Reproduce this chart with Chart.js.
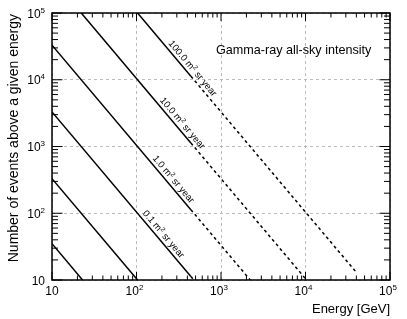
<!DOCTYPE html>
<html>
<head>
<meta charset="utf-8">
<script src="https://cdn.jsdelivr.net/npm/chart.js@4.4.1/dist/chart.umd.min.js"></script>
<style>
  html, body { margin: 0; padding: 0; background: #fff; }
  #wrap { width: 407px; height: 319px; }
</style>
</head>
<body>
<div id="wrap"><canvas id="c" width="407" height="319"></canvas></div>
<script>
// lines, lowest exposure first: [energy GeV, events above]
const exposureLabels = ["", "", "0.1", "1.0", "10.0", "100.0"];
const solidStart = [[10, 35], [10, 330], [10, 3300], [10, 33000], [22.2, 100000], [103, 100000]];
const solidEnd = [[23, 10], [103, 10], [440, 11.3], [440, 113], [440, 1130], [440, 11300]];
const dashedEnd = [null, null, [477, 10], [2220, 10], [10300, 10], [40000, 13]];
// energy at which each label sits on its line
const labelEnergy = [0, 0, 183, 240, 307, 404];
const decades = [10, 100, 1000, 10000, 100000];

const FONT = '"Liberation Sans", Arial, Helvetica, sans-serif';

const datasets = [];
solidStart.forEach((p, i) => {
  datasets.push({
    data: [{ x: p[0], y: p[1] }, { x: solidEnd[i][0], y: solidEnd[i][1] }],
    borderDash: []
  });
  if (dashedEnd[i]) {
    datasets.push({
      data: [{ x: solidEnd[i][0], y: solidEnd[i][1] }, { x: dashedEnd[i][0], y: dashedEnd[i][1] }],
      borderDash: [3, 3]
    });
  }
});
datasets.forEach(d => {
  d.borderColor = "#000";
  d.borderWidth = 1.5;
  d.pointRadius = 0;
  d.fill = false;
});

// text "base" + superscript "sup" starting at (x, y)
function supText(ctx, base, sup, rest, x, y, size, supSize, rise) {
  ctx.font = size + "px " + FONT;
  ctx.fillText(base, x, y);
  x += ctx.measureText(base).width;
  ctx.font = supSize + "px " + FONT;
  ctx.fillText(sup, x, y - rise);
  x += ctx.measureText(sup).width;
  ctx.font = size + "px " + FONT;
  if (rest) ctx.fillText(rest, x, y);
}
function supWidth(ctx, base, sup, rest, size, supSize) {
  ctx.font = size + "px " + FONT;
  let w = ctx.measureText(base).width + (rest ? ctx.measureText(rest).width : 0);
  ctx.font = supSize + "px " + FONT;
  return w + ctx.measureText(sup).width;
}

const rootFrame = {
  id: "rootFrame",
  afterDraw(chart) {
    const ctx = chart.ctx;
    const xs = chart.scales.x, ys = chart.scales.y;
    const { left, right, top, bottom } = chart.chartArea;
    ctx.save();
    ctx.fillStyle = "#000";
    ctx.strokeStyle = "#000";

    // ticks inside the frame, all four sides
    ctx.lineWidth = 1;
    ctx.beginPath();
    decades.forEach((d, k) => {
      for (let m = 1; m <= 9; m++) {
        const v = d * m;
        if (v > 100000) break;
        const major = m === 1;
        const px = xs.getPixelForValue(v);
        const lx = major ? 8 : 4.5;
        ctx.moveTo(px, bottom); ctx.lineTo(px, bottom - lx);
        ctx.moveTo(px, top); ctx.lineTo(px, top + lx);
        const py = ys.getPixelForValue(v);
        const ly = major ? 10.5 : 6;
        ctx.moveTo(left, py); ctx.lineTo(left + ly, py);
        ctx.moveTo(right, py); ctx.lineTo(right - ly, py);
      }
    });
    ctx.stroke();

    ctx.lineWidth = 1.5;
    ctx.strokeRect(left, top, right - left, bottom - top);

    // tick labels
    ctx.textBaseline = "alphabetic";
    ctx.textAlign = "left";
    decades.forEach((d, k) => {
      const exp = k + 1;
      const px = xs.getPixelForValue(d);
      const py = ys.getPixelForValue(d);
      if (exp === 1) {
        ctx.font = "12px " + FONT;
        const w = ctx.measureText("10").width;
        ctx.fillText("10", px - w / 2, bottom + 15);
        ctx.fillText("10", left - 7 - w, py + 4.5);
      } else {
        const w = supWidth(ctx, "10", String(exp), "", 12, 8);
        supText(ctx, "10", String(exp), "", px - w / 2 - 2, bottom + 15, 12, 8, 5);
        supText(ctx, "10", String(exp), "", left - 7 - w, py + 4.5, 12, 8, 5);
      }
    });

    // axis titles
    ctx.textAlign = "right";
    ctx.font = "13px " + FONT;
    ctx.fillText("Energy [GeV]", right, bottom + 33);
    ctx.save();
    ctx.translate(18, top + 1);
    ctx.rotate(-Math.PI / 2);
    ctx.font = "14px " + FONT;
    ctx.fillText("Number of events above a given energy", 0, 0);
    ctx.restore();

    // chart title
    ctx.textAlign = "left";
    ctx.font = "12.6px " + FONT;
    ctx.fillText("Gamma-ray all-sky intensity", 216, 54);

    // exposure labels along the lines
    exposureLabels.forEach((lab, i) => {
      if (!lab) return;
      const x0 = xs.getPixelForValue(solidStart[i][0]), y0 = ys.getPixelForValue(solidStart[i][1]);
      const x1 = xs.getPixelForValue(solidEnd[i][0]), y1 = ys.getPixelForValue(solidEnd[i][1]);
      const px = xs.getPixelForValue(labelEnergy[i]);
      const py = y0 + (px - x0) / (x1 - x0) * (y1 - y0);
      const ang = Math.atan2(y1 - y0, x1 - x0);
      const w = supWidth(ctx, lab + " m", "2", " sr year", 9.5, 6.5);
      ctx.save();
      ctx.translate(px, py);
      ctx.rotate(ang);
      supText(ctx, lab + " m", "2", " sr year", -w / 2, -3.5, 9.5, 6.5, 3.5);
      ctx.restore();
    });
    ctx.restore();
  }
};

new Chart(document.getElementById("c"), {
  type: "line",
  data: { datasets: datasets },
  options: {
    responsive: false,
    animation: false,
    devicePixelRatio: 1,
    layout: { padding: { left: 52, right: 17, top: 13, bottom: 39 } },
    plugins: { legend: { display: false }, tooltip: { enabled: false } },
    scales: {
      x: {
        type: "logarithmic",
        min: 10,
        max: 100000,
        afterBuildTicks: axis => { axis.ticks = decades.map(v => ({ value: v })); },
        ticks: { display: false },
        grid: { color: "#bbbbbb", lineWidth: 1, drawTicks: false },
        border: { display: false, dash: [3, 3] }
      },
      y: {
        type: "logarithmic",
        min: 10,
        max: 100000,
        afterBuildTicks: axis => { axis.ticks = decades.map(v => ({ value: v })); },
        ticks: { display: false },
        grid: { color: "#bbbbbb", lineWidth: 1, drawTicks: false },
        border: { display: false, dash: [3, 3] }
      }
    }
  },
  plugins: [rootFrame]
});
</script>
</body>
</html>
